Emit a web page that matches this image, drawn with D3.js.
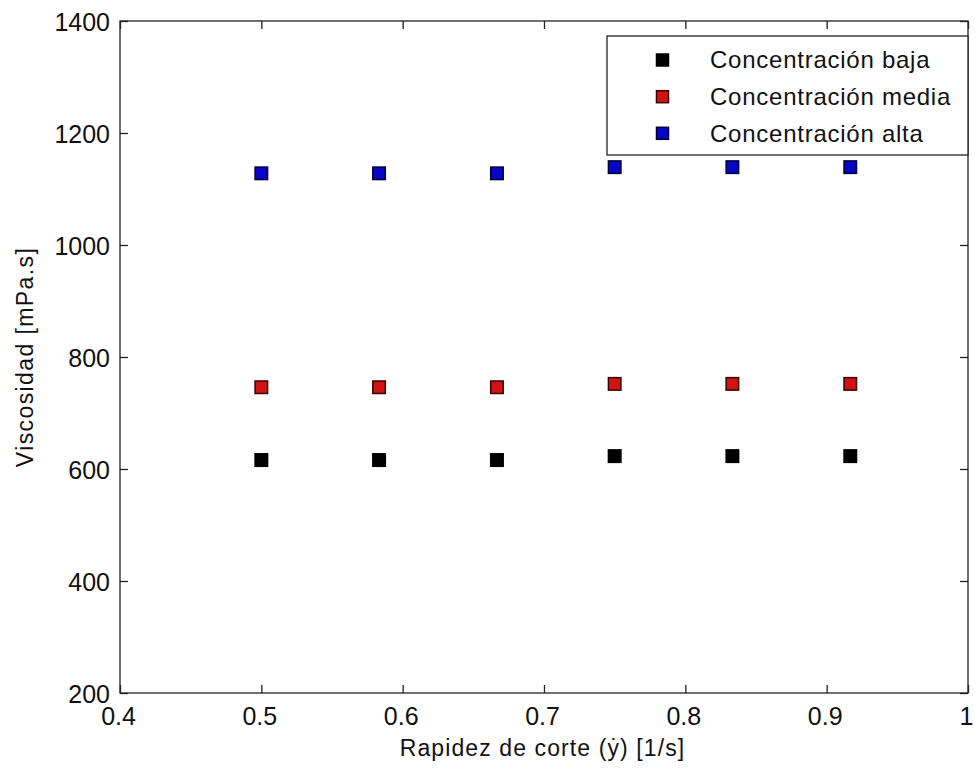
<!DOCTYPE html>
<html><head><meta charset="utf-8">
<script src="https://cdn.jsdelivr.net/npm/d3@7"></script>
<style>
html,body{margin:0;padding:0;background:#fff;}
text{font-family:"Liberation Sans",Arial,sans-serif;fill:#111;}
</style></head>
<body>
<svg id="chart" width="975" height="774"></svg>
<script>
const shearRates = [0.5, 0.5833, 0.6667, 0.75, 0.8333, 0.9167];
const seriesNames = ["Concentración baja", "Concentración media", "Concentración alta"];
const viscBaja = [616, 616, 616, 623, 623, 623];
const viscMedia = [746, 746, 746, 752, 752, 752];
const viscAlta = [1128, 1128, 1128, 1139, 1139, 1139];
const xTicks = [0.4, 0.5, 0.6, 0.7, 0.8, 0.9, 1];
const yTicks = [200, 400, 600, 800, 1000, 1200, 1400];
const fills = ["#000000", "#d01414", "#0606c4"];
const strokes = ["#000000", "#3a0000", "#00003a"];

const series = [viscBaja, viscMedia, viscAlta];
const FONT = "'Liberation Sans', Arial, sans-serif";

const svg = d3.select("#chart");
const L = 120, R = 968, T = 21, B = 693;
const x = d3.scaleLinear().domain([0.4, 1]).range([L, R]);
const y = d3.scaleLinear().domain([200, 1400]).range([B, T]);

const tickLen = 8;
const fsTick = 25;

svg.append("rect").attr("x", L).attr("y", T).attr("width", R - L).attr("height", B - T)
  .attr("fill", "none").attr("stroke", "#222").attr("stroke-width", 1.3);

const xAxisB = d3.axisBottom(x).tickValues(xTicks).tickSizeInner(-tickLen).tickSizeOuter(0)
  .tickFormat(d => d === 1 ? "1" : d3.format(".1f")(d)).tickPadding(14);
const gx = svg.append("g").attr("transform", `translate(0,${B})`).call(xAxisB);
const xAxisT = d3.axisTop(x).tickValues(xTicks).tickSizeInner(-tickLen).tickSizeOuter(0).tickFormat("");
const gxt = svg.append("g").attr("transform", `translate(0,${T})`).call(xAxisT);
const yAxisL = d3.axisLeft(y).tickValues(yTicks).tickSizeInner(-tickLen).tickSizeOuter(0)
  .tickFormat(d3.format("d")).tickPadding(10);
const gy = svg.append("g").attr("transform", `translate(${L},0)`).call(yAxisL);
const yAxisR = d3.axisRight(y).tickValues(yTicks).tickSizeInner(-tickLen).tickSizeOuter(0).tickFormat("");
const gyr = svg.append("g").attr("transform", `translate(${R},0)`).call(yAxisR);

[gx, gxt, gy, gyr].forEach(g => {
  g.select(".domain").remove();
  g.selectAll(".tick line").attr("stroke", "#222").attr("stroke-width", 1.3);
  g.selectAll("text").attr("font-size", fsTick).attr("fill", "#111").attr("font-family", FONT);
});
gx.selectAll("text").attr("dy", "0.71em").attr("dx", -2);
gy.selectAll("text").attr("dy", "0.36em");

// markers
const ms = 12.5;
series.forEach((vals, si) => {
  svg.append("g").selectAll("rect").data(vals.map((v, i) => [shearRates[i], v]))
    .join("rect")
    .attr("x", d => x(d[0]) - ms / 2).attr("y", d => y(d[1]) - ms / 2)
    .attr("width", ms).attr("height", ms)
    .attr("fill", fills[si]).attr("stroke", strokes[si]).attr("stroke-width", 1.5);
});

// legend
const lg = svg.append("g");
lg.append("rect").attr("x", 607).attr("y", 36).attr("width", 361).attr("height", 119)
  .attr("fill", "#fff").attr("stroke", "#222").attr("stroke-width", 1.3);
const rowY = [60, 96.7, 133.3];
seriesNames.forEach((n, i) => {
  lg.append("rect").attr("x", 662.5 - 6).attr("y", rowY[i] - 6).attr("width", 12).attr("height", 12)
    .attr("fill", fills[i]).attr("stroke", strokes[i]).attr("stroke-width", 1.5);
  lg.append("text").attr("x", 710).attr("y", rowY[i] + 8.3)
    .attr("font-size", 24).attr("letter-spacing", "0.75px").text(n);
});

// axis labels
svg.append("text").attr("x", 542.5).attr("y", 756)
  .attr("text-anchor", "middle").attr("font-size", 23).attr("letter-spacing", "1.1px")
  .text("Rapidez de corte (ẏ) [1/s]");
svg.append("text").attr("transform", `translate(33,${(T + B) / 2}) rotate(-90)`)
  .attr("text-anchor", "middle").attr("font-size", 23).attr("letter-spacing", "1.4px")
  .text("Viscosidad [mPa.s]");
</script>
</body></html>
